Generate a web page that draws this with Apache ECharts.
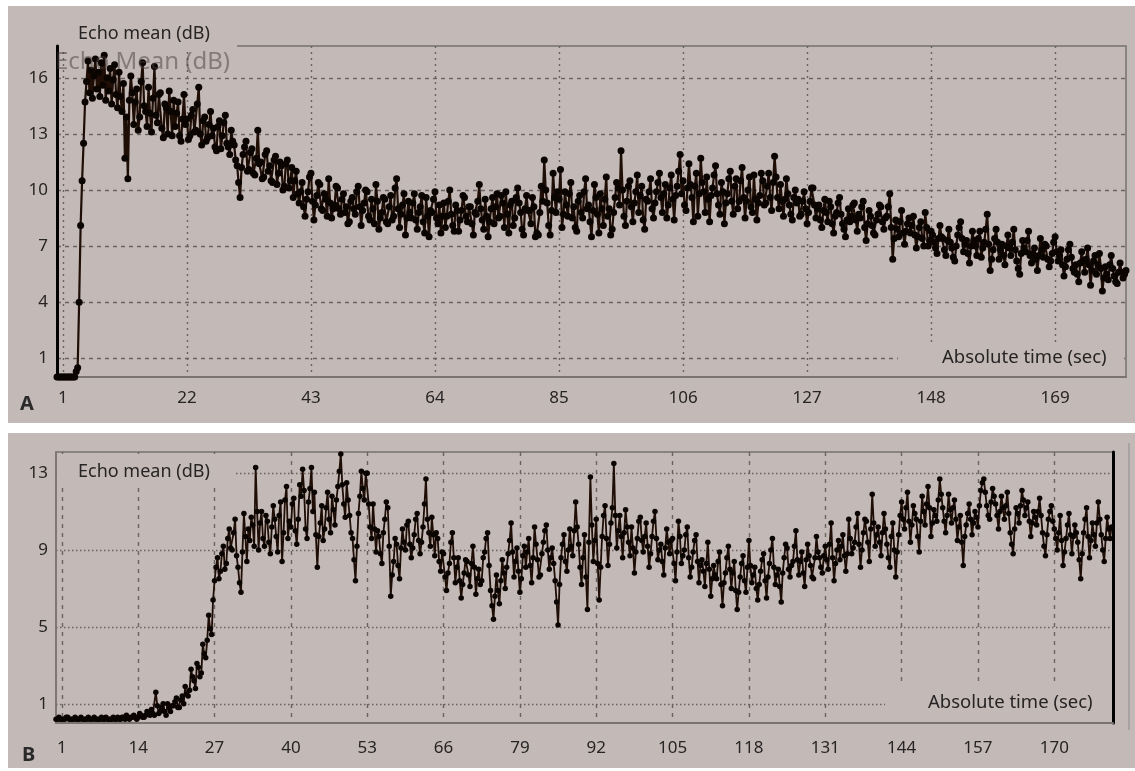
<!DOCTYPE html>
<html>
<head>
<meta charset="utf-8">
<script src="https://cdn.jsdelivr.net/npm/echarts@6/dist/echarts.min.js"></script>
<style>
  html, body { margin: 0; padding: 0; background: #fff; }
  #main { width: 1135px; height: 771px; }
</style>
</head>
<body>
<div id="main"></div>
<script>
// ---- data ----
const stepA = 0.25;   // seconds between samples, panel A
const stepB = 0.25;   // seconds between samples, panel B

const xTicksA = [1, 22, 43, 64, 85, 106, 127, 148, 169];
const yTicksA = [1, 4, 7, 10, 13, 16];
const xTicksB = [1, 14, 27, 40, 53, 66, 79, 92, 105, 118, 131, 144, 157, 170];
const yTicksB = [1, 5, 9, 13];

// echo mean (dB), panel A, t = 0 .. 181 s (one row = 5 s)
const echoA = [
  0, 0, 0, 0, 0, 0, 0, 0, 0, 0, 0, 0, 0, 0.3, 0.5, 4.0, 8.1, 10.5, 12.5, 14.7,
  15.8, 16.9, 15.2, 16.4, 14.9, 16.1, 17.0, 15.4, 16.3, 15.0, 16.8, 15.6, 17.2, 14.8, 16.0, 15.3, 16.5, 14.6, 15.9, 16.7,
  15.1, 14.4, 16.3, 15.0, 14.2, 15.7, 11.7, 13.9, 10.6, 14.8, 16.1, 15.2, 13.5, 14.7, 15.4, 13.2, 13.9, 15.8, 16.8, 14.5,
  14.2, 13.4, 15.5, 14.1, 13.1, 14.9, 16.6, 14.0, 13.6, 15.1, 15.2, 13.3, 12.8, 14.6, 14.4, 13.0, 15.3, 14.2, 12.9, 14.8,
  13.4, 14.1, 14.7, 12.9, 12.6, 13.8, 15.1, 13.5, 13.8, 12.7, 12.9, 14.0, 14.3, 13.1, 13.2, 14.6, 15.5, 13.0, 12.4, 13.7,
  13.9, 12.6, 12.8, 13.5, 14.2, 12.9, 13.3, 12.3, 12.1, 13.4, 13.7, 12.2, 12.9, 13.6, 14.0, 12.5, 12.3, 11.9, 13.2, 12.6,
  12.4, 11.6, 11.3, 10.4, 9.6, 11.2, 11.9, 12.3, 12.6, 11.0, 11.1, 12.0, 12.2, 10.9, 10.8, 11.7, 13.2, 11.4, 11.5, 10.6,
  10.7, 11.9, 12.1, 11.0, 11.3, 10.5, 10.4, 11.6, 11.8, 10.3, 10.9, 11.5, 11.3, 10.0, 10.2, 11.4, 11.6, 10.1, 10.5, 11.2,
  9.6, 10.5, 11.0, 9.8, 9.3, 9.9, 10.4, 9.1, 8.6, 9.5, 9.9, 10.7, 10.9, 9.4, 8.4, 9.2, 9.7, 10.4, 10.3, 9.0,
  8.9, 9.8, 9.5, 8.6, 10.6, 9.3, 8.5, 9.0, 9.2, 10.2, 10.1, 9.0, 8.7, 9.5, 9.8, 8.8, 9.1, 8.2, 8.3, 9.4,
  9.6, 9.0, 8.7, 9.9, 10.2, 9.1, 8.1, 8.9, 9.3, 10.0, 9.9, 8.6, 8.4, 9.5, 9.0, 8.2, 10.3, 9.4, 7.9, 8.5,
  8.8, 9.6, 9.5, 8.3, 8.2, 9.1, 9.7, 8.4, 8.6, 10.1, 10.6, 9.0, 8.0, 8.7, 9.2, 9.8, 7.6, 8.5, 9.4, 8.8,
  8.5, 9.3, 9.8, 8.4, 7.9, 8.8, 9.1, 9.7, 8.3, 7.7, 9.6, 8.6, 7.5, 8.9, 8.8, 9.5, 9.9, 8.5, 8.2, 9.2,
  7.7, 8.6, 9.3, 8.0, 8.6, 9.4, 10.0, 8.7, 8.1, 7.8, 9.2, 8.9, 7.8, 8.4, 8.9, 9.7, 9.6, 8.6, 8.3, 9.1,
  9.1, 8.2, 7.6, 8.8, 8.7, 9.4, 10.3, 9.0, 8.4, 7.9, 9.5, 8.6, 7.5, 8.3, 9.0, 9.6, 8.2, 9.1, 9.8, 8.5,
  8.6, 9.7, 9.3, 8.0, 9.9, 8.7, 7.7, 9.2, 9.4, 8.1, 8.5, 9.6, 10.1, 9.3, 8.8, 7.9, 7.6, 9.0, 9.7, 8.9,
  8.9, 8.2, 9.6, 9.1, 7.5, 7.7, 7.6, 8.8, 10.2, 9.4, 11.6, 10.0, 9.3, 8.1, 7.6, 8.9, 10.9, 9.6, 8.8, 9.9,
  9.5, 11.1, 8.0, 8.7, 9.9, 9.2, 8.6, 9.8, 10.4, 8.5, 9.1, 8.0, 7.8, 9.4, 9.7, 8.8, 8.5, 9.9, 10.6, 9.0,
  9.2, 8.3, 7.5, 8.9, 10.3, 9.6, 8.7, 7.7, 9.8, 9.0, 8.1, 9.5, 10.7, 8.6, 9.0, 7.6, 7.9, 8.8, 9.6, 10.4,
  10.1, 9.2, 12.1, 10.0, 8.6, 8.1, 9.4, 10.2, 10.5, 9.1, 8.3, 9.3, 9.9, 10.8, 8.8, 9.7, 10.2, 8.4, 7.9, 9.5,
  9.4, 9.9, 10.6, 9.0, 8.5, 9.3, 9.9, 10.4, 10.9, 9.6, 8.8, 9.8, 10.3, 8.5, 9.2, 10.1, 10.8, 9.5, 8.4, 9.7,
  10.2, 11.0, 11.9, 9.8, 10.5, 9.2, 8.9, 10.1, 11.4, 10.3, 9.6, 8.3, 10.2, 10.9, 8.6, 9.8, 11.7, 10.4, 9.9, 8.8,
  10.7, 9.5, 8.3, 9.7, 10.1, 10.8, 11.3, 9.8, 9.2, 8.7, 10.4, 9.9, 8.2, 9.3, 9.8, 10.6, 11.0, 9.4, 8.7, 10.2,
  10.6, 9.0, 9.4, 10.5, 11.2, 9.6, 8.5, 9.4, 10.0, 10.7, 9.1, 8.8, 10.8, 9.5, 8.4, 9.3, 9.7, 10.9, 10.5, 9.2,
  9.3, 10.2, 10.9, 9.6, 8.9, 10.4, 11.8, 10.7, 9.6, 9.0, 10.3, 9.4, 8.6, 9.5, 10.6, 9.8, 9.2, 8.7, 8.4, 9.6,
  10.0, 9.3, 9.5, 8.6, 8.7, 9.4, 9.9, 9.0, 8.2, 8.8, 9.4, 10.1, 10.1, 9.2, 8.5, 9.0, 9.2, 8.4, 8.0, 8.9,
  9.5, 8.8, 8.3, 9.4, 9.1, 8.2, 7.7, 8.6, 8.8, 9.3, 9.6, 8.7, 8.2, 7.9, 7.5, 8.4, 9.0, 8.3, 8.6, 9.2,
  9.3, 8.4, 7.8, 8.7, 8.5, 9.1, 9.4, 8.0, 7.3, 8.2, 8.9, 8.6, 8.1, 7.7, 7.6, 8.4, 8.7, 9.2, 9.1, 8.3,
  7.9, 8.5, 8.6, 9.1, 9.8, 8.0, 6.3, 7.4, 8.4, 7.9, 7.5, 8.3, 8.9, 7.7, 7.1, 7.8, 8.2, 8.5, 7.7, 8.1,
  8.6, 7.6, 6.9, 7.5, 8.0, 8.3, 7.4, 7.0, 8.8, 8.0, 7.0, 7.3, 7.8, 7.6, 7.2, 6.9, 6.6, 7.4, 8.1, 7.5,
  7.4, 6.8, 6.5, 7.3, 7.9, 7.2, 6.9, 6.4, 6.2, 7.0, 7.6, 8.0, 8.3, 7.4, 6.7, 7.1, 7.3, 6.6, 6.1, 7.0,
  7.8, 7.3, 7.0, 6.5, 7.4, 7.8, 6.4, 6.9, 7.2, 7.9, 8.7, 7.1, 5.7, 6.3, 6.8, 7.4, 7.9, 7.2, 6.3, 6.8,
  7.1, 6.5, 6.0, 7.0, 7.6, 6.9, 6.5, 7.2, 7.9, 6.8, 6.2, 5.8, 5.5, 6.6, 7.3, 6.9, 6.7, 7.3, 7.8, 6.5,
  6.1, 6.6, 6.9, 6.3, 5.7, 6.5, 7.4, 6.8, 6.4, 7.1, 7.0, 6.3, 5.9, 6.2, 6.6, 7.2, 7.5, 6.7, 6.2, 6.5,
  6.8, 6.0, 5.4, 5.9, 6.3, 6.8, 7.1, 6.4, 5.8, 5.6, 6.0, 5.5, 5.1, 6.1, 6.7, 6.2, 5.6, 6.3, 6.9, 6.0,
  4.9, 5.7, 6.2, 6.5, 5.5, 6.0, 6.6, 5.8, 4.6, 5.3, 5.9, 5.5, 5.2, 6.0, 6.5, 5.8, 5.4, 5.1, 5.0, 5.6,
  6.1, 5.6, 5.3, 5.5, 5.7
];

// echo mean (dB), panel B, t = 0 .. 179.75 s (one row = 5 s)
const echoB = [
  0.2, 0.2, 0.3, 0.2, 0.2, 0.2, 0.2, 0.3, 0.3, 0.2, 0.2, 0.2, 0.2, 0.3, 0.2, 0.2, 0.2, 0.3, 0.2, 0.2,
  0.2, 0.2, 0.3, 0.2, 0.2, 0.2, 0.3, 0.2, 0.2, 0.2, 0.2, 0.3, 0.2, 0.2, 0.3, 0.2, 0.2, 0.2, 0.2, 0.3,
  0.2, 0.2, 0.3, 0.2, 0.2, 0.3, 0.3, 0.2, 0.4, 0.3, 0.2, 0.3, 0.3, 0.4, 0.3, 0.2, 0.3, 0.5, 0.4, 0.3,
  0.3, 0.4, 0.6, 0.5, 0.4, 0.7, 0.5, 0.4, 1.6, 0.9, 0.5, 0.6, 0.8, 1.0, 0.6, 0.4, 1.0, 0.8, 0.6, 0.9,
  0.9, 1.1, 1.3, 0.8, 0.8, 1.2, 1.4, 1.0, 1.9, 1.5, 1.4, 1.7, 2.8, 2.4, 2.2, 1.8, 3.1, 2.9, 2.4, 2.6,
  4.1, 3.6, 3.4, 4.3, 5.6, 4.9, 4.6, 6.4, 7.4, 8.1, 8.6, 7.5, 7.9, 8.8, 9.2, 8.0, 8.3, 9.6, 10.1, 9.1,
  9.0, 9.9, 10.6, 8.7, 8.1, 7.3, 6.8, 8.9, 10.9, 9.7, 8.4, 10.1, 9.5, 10.7, 10.3, 9.2, 13.3, 11.0, 9.0, 10.4,
  11.0, 9.6, 9.2, 10.8, 10.5, 9.4, 8.8, 10.2, 11.3, 10.6, 9.7, 8.9, 10.8, 11.5, 8.4, 9.9, 11.6, 12.3, 9.6, 10.5,
  10.2, 11.4, 11.7, 10.0, 9.3, 10.6, 12.4, 11.8, 13.2, 12.1, 10.1, 9.6, 11.5, 12.2, 13.3, 11.0, 12.0, 9.8, 8.1, 9.7,
  10.4, 11.3, 9.5, 10.1, 11.2, 12.0, 10.6, 9.9, 11.8, 11.1, 10.3, 11.6, 12.3, 13.1, 14.0, 12.4, 11.4, 10.7, 12.5, 11.6,
  10.8, 9.9, 9.6, 8.5, 7.4, 9.2, 10.9, 11.8, 13.1, 12.2, 11.6, 13.0, 13.0, 11.4, 10.2, 9.6, 11.4, 10.1, 8.9, 10.0,
  9.7, 8.8, 8.3, 9.9, 10.6, 11.5, 11.2, 9.2, 6.6, 7.7, 8.4, 9.6, 9.3, 8.2, 7.5, 9.1, 10.1, 9.4, 9.0, 10.3,
  10.5, 9.3, 8.6, 9.1, 9.8, 10.6, 10.9, 9.5, 8.8, 9.4, 10.2, 11.4, 12.7, 10.6, 9.9, 9.2, 10.7, 9.8, 8.7, 9.9,
  9.6, 8.4, 7.9, 8.9, 8.8, 7.6, 6.9, 7.8, 8.3, 9.4, 9.9, 8.6, 7.3, 8.1, 8.6, 7.4, 6.5, 7.2, 7.8, 8.5,
  8.4, 7.7, 7.1, 8.3, 9.2, 8.1, 6.7, 7.5, 8.0, 7.2, 7.4, 8.6, 8.9, 9.6, 9.9, 8.2, 6.9, 6.1, 5.4, 6.6,
  7.7, 6.9, 6.2, 7.4, 8.5, 7.8, 7.0, 8.1, 8.8, 9.5, 10.4, 8.9, 7.6, 8.4, 9.1, 7.9, 6.8, 7.5, 8.7, 9.2,
  8.1, 8.9, 9.6, 8.2, 7.3, 8.6, 10.2, 9.3, 8.5, 7.6, 7.7, 8.8, 9.4, 10.0, 10.3, 9.0, 8.0, 8.6, 9.1, 8.3,
  7.4, 6.3, 5.1, 7.2, 8.6, 9.3, 9.8, 8.4, 7.9, 9.0, 10.1, 9.2, 8.7, 10.0, 11.5, 10.2, 9.3, 8.1, 7.2, 8.6,
  9.8, 7.6, 5.9, 9.4, 12.8, 10.3, 8.4, 9.5, 10.6, 8.3, 6.4, 8.1, 9.7, 10.8, 11.3, 9.6, 8.2, 9.3, 10.4, 11.2,
  13.5, 10.8, 9.1, 10.0, 10.8, 9.7, 8.6, 9.9, 11.1, 10.2, 9.4, 8.7, 10.2, 9.1, 7.8, 8.9, 9.6, 10.5, 10.7, 9.5,
  8.9, 9.7, 10.4, 9.2, 8.1, 8.8, 9.7, 10.5, 11.0, 9.6, 8.5, 9.0, 9.3, 8.4, 7.7, 9.1, 10.1, 9.4, 8.8, 9.5,
  9.6, 8.3, 7.4, 8.9, 10.5, 9.7, 8.3, 8.7, 9.0, 9.8, 10.2, 8.6, 7.6, 8.1, 8.9, 9.5, 9.8, 8.4, 7.3, 8.2,
  8.5, 7.9, 7.1, 8.3, 9.4, 8.0, 6.6, 7.5, 8.2, 7.7, 7.5, 8.4, 8.9, 7.2, 6.1, 7.3, 7.8, 8.6, 9.2, 8.0,
  7.0, 7.8, 8.4, 6.9, 5.9, 6.8, 7.6, 8.3, 8.7, 7.4, 6.8, 8.1, 9.5, 8.2, 7.3, 7.7, 8.1, 7.0, 6.4, 7.2,
  7.9, 8.5, 8.8, 7.4, 6.5, 7.6, 8.3, 9.0, 9.6, 8.1, 7.2, 7.7, 8.0, 7.1, 6.3, 7.8, 8.6, 9.3, 9.1, 8.0,
  7.6, 8.2, 8.4, 9.2, 10.0, 8.5, 7.7, 8.4, 8.9, 7.8, 7.1, 8.5, 9.3, 8.7, 8.2, 7.6, 7.5, 8.6, 9.7, 8.9,
  8.6, 8.1, 7.8, 8.7, 9.2, 8.5, 8.0, 9.3, 10.4, 8.6, 7.4, 8.3, 9.0, 9.5, 8.5, 9.2, 9.8, 8.7, 7.9, 8.8,
  10.6, 9.6, 8.8, 9.1, 9.4, 10.2, 10.9, 9.3, 8.1, 9.0, 9.9, 10.6, 10.5, 9.4, 8.4, 10.1, 11.9, 10.4, 9.2, 9.8,
  10.2, 9.4, 8.7, 9.9, 10.9, 10.1, 9.3, 8.6, 8.1, 9.7, 10.4, 9.0, 7.6, 8.9, 9.8, 10.8, 11.5, 10.6, 10.1, 11.2,
  12.0, 10.5, 9.4, 10.3, 11.3, 10.9, 10.6, 9.7, 8.9, 10.5, 11.8, 11.0, 10.3, 11.4, 12.3, 11.2, 9.7, 10.4, 11.1, 10.8,
  10.5, 11.6, 12.7, 11.9, 11.2, 10.5, 9.9, 10.8, 11.9, 11.1, 10.4, 11.2, 11.6, 10.6, 9.5, 10.2, 10.8, 9.4, 8.2, 9.7,
  10.3, 10.9, 11.4, 10.6, 9.8, 10.4, 11.0, 10.7, 10.2, 11.3, 12.1, 12.5, 12.7, 12.0, 11.3, 10.8, 10.6, 11.5, 12.2, 11.8,
  11.4, 10.8, 10.1, 11.0, 11.8, 11.2, 10.6, 11.3, 12.0, 10.9, 9.9, 9.3, 8.8, 10.1, 11.2, 10.9, 10.4, 11.3, 12.1, 11.6,
  10.8, 11.2, 11.5, 10.5, 9.7, 10.4, 11.0, 10.7, 10.3, 11.0, 11.7, 10.8, 9.9, 9.2, 8.7, 9.8, 10.6, 11.0, 11.3, 10.5,
  10.1, 9.6, 9.0, 9.9, 10.8, 9.5, 8.2, 8.9, 9.6, 10.3, 10.9, 9.8, 8.8, 9.7, 10.3, 9.9, 9.4, 8.5, 7.5, 8.8,
  9.9, 10.6, 11.2, 9.7, 8.6, 9.5, 10.4, 9.8, 9.2, 10.4, 11.5, 10.6, 9.8, 9.0, 8.4, 9.6, 10.7, 10.1, 9.6, 10.2
];

// ---- style ----
const panelBg = '#c3b9b6';
const gridCol = '#6a6361';
const borderCol = '#767070';
const txtCol = '#262424';
const traceCol = '#1f0e06';
const dotCol = '#0b0502';
const font = 'Noto Sans';

const chart = echarts.init(document.getElementById('main'));

function tickLabel(vals, margin) {
  return { customValues: vals, margin: margin, fontSize: 17, color: txtCol, fontFamily: font };
}

const option = {
  backgroundColor: panelBg,
  animation: false,
  grid: [
    { left: 57, top: 46, width: 1069, height: 331, show: true, borderColor: borderCol, borderWidth: 1.5, backgroundColor: 'transparent' },
    { left: 56, top: 452, width: 1057, height: 271, show: true, borderColor: borderCol, borderWidth: 1.5, backgroundColor: 'transparent' }
  ],
  xAxis: [
    {
      type: 'value', gridIndex: 0, min: 0, max: 181,
      axisLine: { onZero: false, lineStyle: { color: '#7b7371', width: 2 } },
      axisTick: { show: false, customValues: xTicksA },
      axisLabel: tickLabel(xTicksA, 13),
      splitLine: { show: true, lineStyle: { color: gridCol, type: [2, 4], width: 1.4 } }
    },
    {
      type: 'value', gridIndex: 1, min: 0, max: 180,
      axisLine: { onZero: false, lineStyle: { color: '#7b7371', width: 2 } },
      axisTick: { show: false, customValues: xTicksB },
      axisLabel: tickLabel(xTicksB, 17),
      splitLine: { show: true, lineStyle: { color: gridCol, type: [4, 5], width: 1.4 } }
    }
  ],
  yAxis: [
    {
      type: 'value', gridIndex: 0, min: 0, max: 17.7,
      axisLine: { show: true, onZero: false, lineStyle: { color: '#000', width: 3 } },
      axisTick: { show: false, customValues: yTicksA },
      axisLabel: tickLabel(yTicksA, 9),
      splitLine: { show: true, lineStyle: { color: gridCol, type: [4, 4], width: 1.4 } }
    },
    {
      type: 'value', gridIndex: 1, min: 0, max: 14.1,
      axisLine: { show: true, onZero: false, lineStyle: { color: '#7b7371', width: 1.5 } },
      axisTick: { show: false, customValues: yTicksB },
      axisLabel: tickLabel(yTicksB, 8),
      splitLine: { show: true, lineStyle: { color: gridCol, type: [1.5, 2.5], width: 1.4 } }
    },
    {
      // thick black right edge of panel B
      type: 'value', gridIndex: 1, position: 'right', min: 0, max: 1,
      axisLine: { show: true, onZero: false, lineStyle: { color: '#000', width: 3 } },
      axisTick: { show: false }, axisLabel: { show: false }, splitLine: { show: false }
    }
  ],
  series: [
    {
      name: 'A', type: 'line', xAxisIndex: 0, yAxisIndex: 0, z: 3,
      data: echoA.map((v, i) => [i * stepA, v]),
      symbol: 'circle', symbolSize: 7,
      lineStyle: { color: traceCol, width: 2.2 },
      itemStyle: { color: dotCol }
    },
    {
      name: 'B', type: 'line', xAxisIndex: 1, yAxisIndex: 1, z: 3,
      data: echoB.map((v, i) => [i * stepB, v]),
      symbol: 'circle', symbolSize: 5.5,
      lineStyle: { color: traceCol, width: 1.8 },
      itemStyle: { color: dotCol }
    }
  ],
  graphic: [
    // white margins around the two panels
    { type: 'rect', z: 0, shape: { x: 0, y: 0, width: 1135, height: 6 }, style: { fill: '#fff' } },
    { type: 'rect', z: 0, shape: { x: 0, y: 0, width: 8, height: 771 }, style: { fill: '#fff' } },
    { type: 'rect', z: 0, shape: { x: 0, y: 423, width: 1135, height: 10 }, style: { fill: '#fff' } },
    { type: 'rect', z: 0, shape: { x: 0, y: 768, width: 1135, height: 3 }, style: { fill: '#fff' } },
    // label boxes hiding the grid under the titles
    { type: 'rect', z: 1, shape: { x: 59, y: 38, width: 178, height: 10 }, style: { fill: panelBg } },
    { type: 'rect', z: 1, shape: { x: 898, y: 342, width: 226, height: 34 }, style: { fill: panelBg } },
    { type: 'rect', z: 1, shape: { x: 57, y: 454, width: 178, height: 33 }, style: { fill: panelBg } },
    { type: 'rect', z: 1, shape: { x: 885, y: 685, width: 226, height: 37 }, style: { fill: panelBg } },
    // thin frame line right of panel B
    { type: 'line', z: 1, shape: { x1: 1129, y1: 443, x2: 1129, y2: 730 }, style: { stroke: '#a39a98', lineWidth: 1.5 } },
    // texts
    { type: 'text', z: 5, x: 55, y: 62, style: { text: 'Echo Mean (dB)', fontSize: 24, fontFamily: font, fill: 'rgba(70,60,58,0.5)', verticalAlign: 'middle' } },
    { type: 'text', z: 5, x: 78, y: 34, style: { text: 'Echo mean (dB)', fontSize: 18, fontFamily: font, fill: txtCol, verticalAlign: 'middle' } },
    { type: 'text', z: 5, x: 942, y: 358, style: { text: 'Absolute time (sec)', fontSize: 18.5, fontFamily: font, fill: txtCol, verticalAlign: 'middle' } },
    { type: 'text', z: 5, x: 78, y: 472, style: { text: 'Echo mean (dB)', fontSize: 18, fontFamily: font, fill: txtCol, verticalAlign: 'middle' } },
    { type: 'text', z: 5, x: 928, y: 703, style: { text: 'Absolute time (sec)', fontSize: 18.5, fontFamily: font, fill: txtCol, verticalAlign: 'middle' } },
    { type: 'text', z: 5, x: 20, y: 404, style: { text: 'A', fontSize: 20, fontWeight: 'bold', fontFamily: font, fill: '#2a2a2a', verticalAlign: 'middle' } },
    { type: 'text', z: 5, x: 22, y: 755, style: { text: 'B', fontSize: 20, fontWeight: 'bold', fontFamily: font, fill: '#2a2a2a', verticalAlign: 'middle' } }
  ]
};

chart.setOption(option);
</script>
</body>
</html>
